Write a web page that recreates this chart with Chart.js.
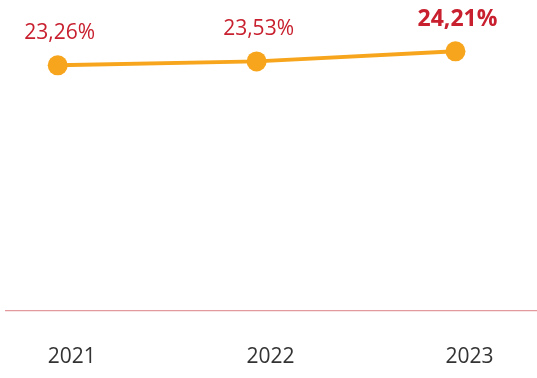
<!DOCTYPE html>
<html><head><meta charset="utf-8">
<script src="https://cdn.jsdelivr.net/npm/chart.js@4"></script>
<style>html,body{margin:0;padding:0;background:#fff}#wrap{width:537px;height:378px}</style>
</head><body><div id="wrap"><canvas id="c"></canvas></div>
<script>
const categories = ["2021", "2022", "2023"];
const values = [23.26, 23.53, 24.21];
const valueLabels = ["23,26%", "23,53%", "24,21%"];
const boldLabel = [false, false, true];

const labelPlugin = {
  id: 'vlabels',
  afterDatasetsDraw(chart) {
    const ctx = chart.ctx;
    const meta = chart.getDatasetMeta(0);
    ctx.save();
    ctx.textAlign = 'center';
    ctx.textBaseline = 'middle';
    meta.data.forEach((pt, i) => {
      ctx.fillStyle = '#c8202f';
      ctx.font = boldLabel[i] ? 'bold 23px "Open Sans"' : '21px "Open Sans"';
      ctx.fillText(valueLabels[i], pt.x + 2, pt.y - 32);
    });
    ctx.restore();
  }
};

new Chart(document.getElementById('c'), {
  type: 'line',
  data: {
    datasets: [{
      data: values.map((v, i) => ({x: i, y: v})),
      borderColor: '#f7a51c',
      backgroundColor: '#f7a51c',
      borderWidth: 4,
      pointRadius: 10,
      pointHoverRadius: 10,
      pointBorderWidth: 0,
      tension: 0,
      clip: false
    }]
  },
  options: {
    responsive: true,
    maintainAspectRatio: false,
    animation: false,
    events: [],
    layout: {autoPadding: false, padding: {left: 6, right: 0, top: 0, bottom: 10}},
    plugins: {legend: {display: false}, tooltip: {enabled: false}},
    scales: {
      x: {
        type: 'linear',
        min: -0.26,
        max: 2.41,
        grid: {display: false, drawTicks: false},
        border: {display: true, color: '#e49a9c', width: 1.3},
        afterBuildTicks(axis) { axis.ticks = categories.map((c, i) => ({value: i})); },
        afterFit(axis) { axis.height = 57; axis.paddingLeft = 0; axis.paddingRight = 0; },
        ticks: {
          callback: (v) => categories[v],
          color: '#333333',
          font: {family: 'Open Sans', size: 21},
          padding: 33,
          labelOffset: 14,
          maxRotation: 0,
          autoSkip: false
        }
      },
      y: {
        display: false,
        min: 6.57,
        max: 27.7
      }
    }
  },
  plugins: [labelPlugin]
});
</script></body></html>
